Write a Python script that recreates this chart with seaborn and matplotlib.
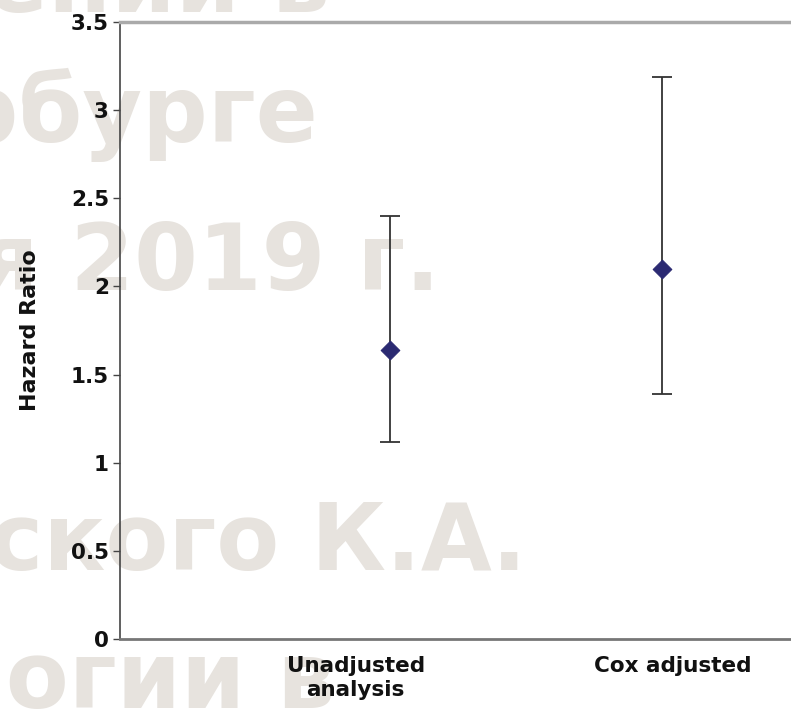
import matplotlib
matplotlib.use("Agg")
import matplotlib.pyplot as plt
import seaborn as sns
import pandas as pd

groups = ["Unadjusted\nanalysis", "Cox adjusted"]
hr = [1.64, 2.10]
ci_low = [1.12, 1.39]
ci_high = [2.40, 3.19]
y_ticks = [0, 0.5, 1, 1.5, 2, 2.5, 3, 3.5]
y_tick_labels = ["0", "0.5", "1", "1.5", "2", "2.5", "3", "3.5"]

# faint watermark lines, cut off at the left edge
wm_lines = ["ении в", "Петербурге", "июня 2019 г.", "ского К.А.", "кардиологии в"]
wm_right = [330, 318, 440, 527, 335]
wm_base = [12, 142, 290, 570, 708]

df = pd.DataFrame({"group": groups, "hr": hr})

sns.set_style("white")
plt.rcParams["font.family"] = ["DejaVu Sans"]

fig = plt.figure(figsize=(7.91, 7.12), dpi=100)
ax = fig.add_axes([120 / 791, 73 / 712, 670 / 791, 617 / 712])
ax.patch.set_alpha(0)

for txt, xr, yb in zip(wm_lines, wm_right, wm_base):
    fig.text(xr / 791, 1 - yb / 712, txt, ha="right", va="baseline",
             fontsize=66, fontweight="bold", family="DejaVu Sans",
             color="#e7e3de", zorder=-5)

xpos = [0, 1]
ax.errorbar(xpos, hr,
            yerr=[[h - l for h, l in zip(hr, ci_low)], [u - h for h, u in zip(hr, ci_high)]],
            fmt="none", ecolor="#333333", elinewidth=1.3, capsize=7, capthick=1.3, zorder=2)
sns.scatterplot(x=xpos, y=hr, marker="D", s=90, color="#2b2a72", edgecolor="#2b2a72",
                ax=ax, zorder=3)

ax.set_xlim(-0.99, 1.47)
ax.set_ylim(0, 3.5)
ax.set_yticks(y_ticks)
ax.set_yticklabels(y_tick_labels)
# category labels sit a little off the markers, as in the original
ax.set_xticks([-0.125, 1.04])
ax.set_xticklabels(groups)

ax.tick_params(axis="y", left=True, length=5, width=1, color="#444444", pad=3,
               labelsize=15.5)
ax.tick_params(axis="x", bottom=False, labelsize=15.5, pad=9)
for lab in ax.get_xticklabels() + ax.get_yticklabels():
    lab.set_fontweight("bold")
    lab.set_color("#111111")

ax.set_ylabel("Hazard Ratio", fontsize=16, fontweight="bold", labelpad=22, color="#111111")
ax.set_xlabel("")

ax.spines["top"].set_color("#aaaaaa")
ax.spines["top"].set_linewidth(2.5)
ax.spines["left"].set_color("#444444")
ax.spines["left"].set_linewidth(1.2)
ax.spines["bottom"].set_color("#777777")
ax.spines["bottom"].set_linewidth(2)
ax.spines["right"].set_visible(False)

fig.savefig("out.png", dpi=100)
